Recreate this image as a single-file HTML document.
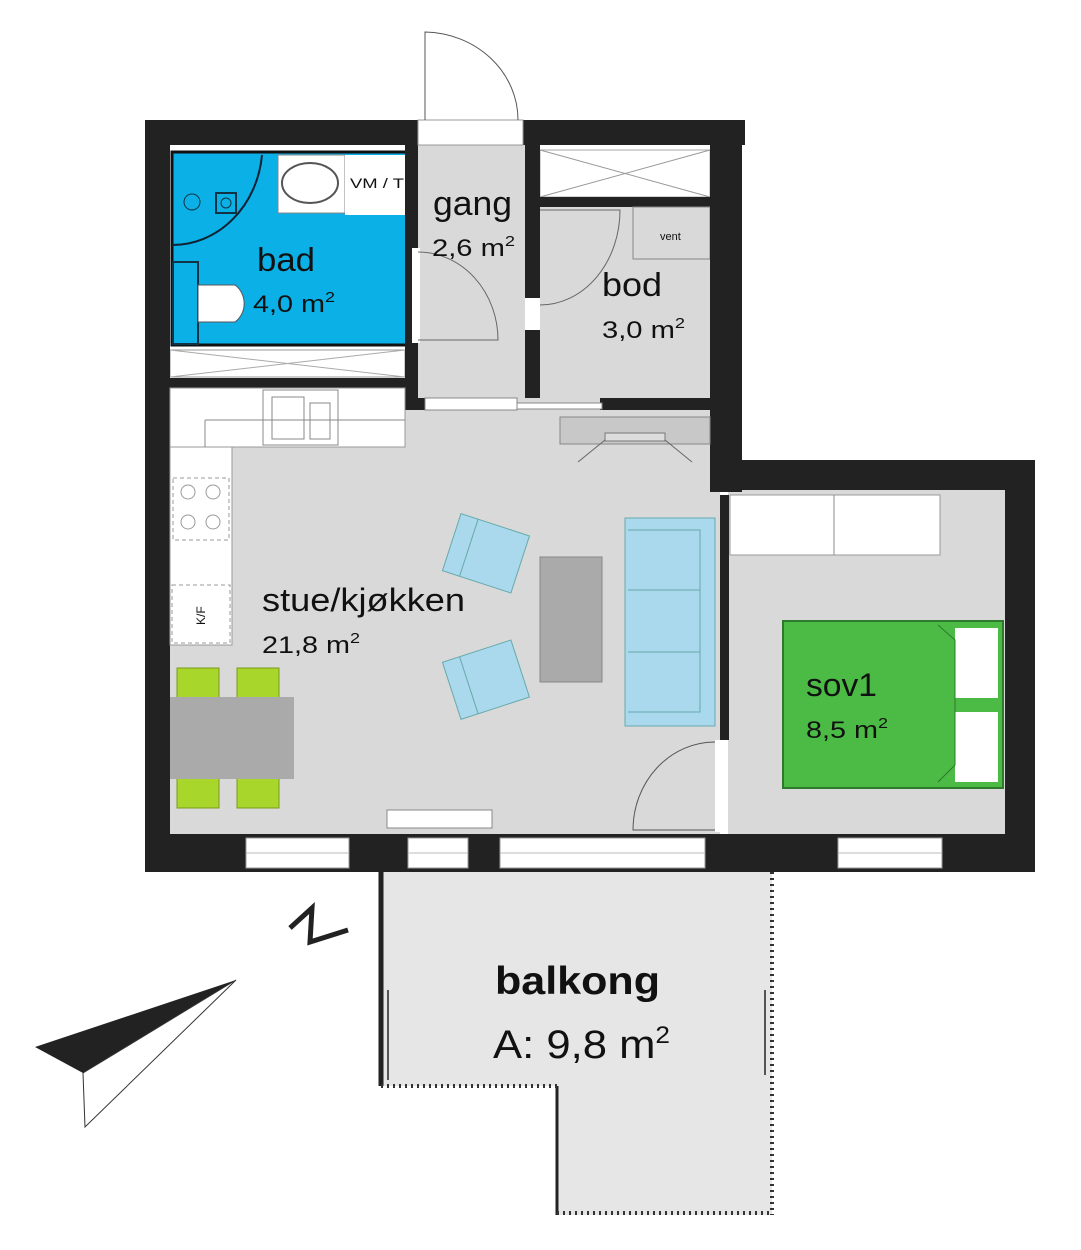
<!DOCTYPE html>
<html><head><meta charset="utf-8"><style>
html,body{margin:0;padding:0;background:#fff;}
svg{display:block;}
text{font-family:"Liberation Sans",sans-serif;fill:#111;}
</style></head><body>
<svg width="1081" height="1250" viewBox="0 0 1081 1250" xmlns="http://www.w3.org/2000/svg">
<rect width="1081" height="1250" fill="#fff"/>
<!-- floors -->
<rect x="170" y="388" width="550" height="446" fill="#d9d9d9"/>
<rect x="418" y="145" width="107" height="255" fill="#d9d9d9"/>
<rect x="540" y="207" width="170" height="190" fill="#d9d9d9"/>
<rect x="728" y="490" width="277" height="344" fill="#d9d9d9"/>
<!-- bathroom -->
<rect x="172" y="152" width="240" height="193" fill="#0ab0e6" stroke="#111" stroke-width="3"/>
<rect x="278" y="155" width="67" height="58" fill="#fff" stroke="#888"/>
<ellipse cx="310" cy="183" rx="28" ry="20" fill="#fff" stroke="#555" stroke-width="2"/>
<rect x="345" y="155" width="62" height="60" fill="#fff"/>
<text x="350" y="188" font-size="14" textLength="54" lengthAdjust="spacingAndGlyphs">VM / T</text>
<path d="M262 155 A 90 100 0 0 1 172 245" fill="none" stroke="#123" stroke-width="2"/>
<rect x="216" y="193" width="20" height="20" fill="none" stroke="#134" stroke-width="2"/>
<circle cx="226" cy="203" r="5" fill="none" stroke="#134"/>
<circle cx="192" cy="202" r="8" fill="none" stroke="#134"/>
<rect x="173" y="262" width="25" height="82" fill="none" stroke="#134" stroke-width="2"/>
<path d="M198 285 H235 A 20 22 0 0 1 235 322 H198 Z" fill="#fff" stroke="#555"/>
<text x="257" y="271" font-size="33" textLength="58" lengthAdjust="spacingAndGlyphs">bad</text>
<text x="253" y="312" font-size="24" textLength="82" lengthAdjust="spacingAndGlyphs">4,0 m<tspan font-size="15" dy="-10">2</tspan></text>
<!-- strip below bad -->
<rect x="170" y="350" width="235" height="27" fill="#fff" stroke="#999"/>
<path d="M170 350 L405 377 M170 377 L405 350" stroke="#aaa"/>
<rect x="170" y="378" width="240" height="10" fill="#222"/>
<!-- bod closet -->
<rect x="540" y="150" width="170" height="47" fill="#fff" stroke="#aaa"/>
<path d="M540 150 L710 197 M540 197 L710 150" stroke="#999"/>
<rect x="540" y="197" width="170" height="10" fill="#222"/>
<rect x="633" y="207" width="77" height="52" fill="#d9d9d9" stroke="#888"/>
<text x="660" y="240" font-size="11">vent</text>
<!-- walls -->
<g fill="#222">
<rect x="145" y="120" width="273" height="25"/>
<rect x="523" y="120" width="222" height="25"/>
<rect x="145" y="120" width="25" height="752"/>
<rect x="710" y="120" width="32" height="372"/>
<rect x="710" y="460" width="325" height="30"/>
<rect x="1005" y="460" width="30" height="412"/>
<rect x="525" y="145" width="15" height="153"/>
<rect x="525" y="330" width="15" height="68"/>
<rect x="405" y="145" width="13" height="255"/>
<rect x="405" y="398" width="20" height="12"/>
<rect x="600" y="398" width="120" height="12"/>
<rect x="720" y="495" width="9" height="245"/>
<rect x="145" y="834" width="890" height="38"/>
</g>
<!-- entry door -->
<rect x="418" y="120" width="105" height="25" fill="#fff" stroke="#999"/>
<path d="M425 120 V32 A 95 88 0 0 1 518 120" fill="none" stroke="#555"/>
<!-- gang door -->
<rect x="412" y="248" width="8" height="95" fill="#fff"/>
<path d="M418 252 A 80 88 0 0 1 498 340 H418" fill="none" stroke="#666"/>
<path d="M540 305 A 80 95 0 0 0 620 210 H540" fill="none" stroke="#666"/>
<rect x="528" y="298" width="10" height="32" fill="#fff"/>
<text x="433" y="215" font-size="34" textLength="79" lengthAdjust="spacingAndGlyphs">gang</text>
<text x="432" y="256" font-size="24" textLength="83" lengthAdjust="spacingAndGlyphs">2,6 m<tspan font-size="15" dy="-10">2</tspan></text>
<text x="602" y="296" font-size="33" textLength="60" lengthAdjust="spacingAndGlyphs">bod</text>
<text x="602" y="338" font-size="24" textLength="83" lengthAdjust="spacingAndGlyphs">3,0 m<tspan font-size="15" dy="-10">2</tspan></text>
<!-- sliding door top -->
<rect x="425" y="398" width="92" height="12" fill="#fff" stroke="#888"/>
<rect x="517" y="403" width="85" height="6" fill="#fff" stroke="#888"/>
<!-- kitchen -->
<rect x="170" y="388" width="235" height="59" fill="#fff" stroke="#999"/>
<rect x="170" y="447" width="62" height="198" fill="#fff" stroke="#999"/>
<rect x="263" y="390" width="75" height="55" fill="none" stroke="#888"/>
<rect x="272" y="397" width="32" height="42" fill="none" stroke="#888"/>
<rect x="310" y="403" width="20" height="36" fill="none" stroke="#888"/>
<path d="M205 420 H405 M205 420 V447" stroke="#888" fill="none"/>
<rect x="173" y="478" width="56" height="62" fill="none" stroke="#999" stroke-dasharray="4 3"/>
<circle cx="188" cy="492" r="7" fill="none" stroke="#999"/><circle cx="213" cy="492" r="7" fill="none" stroke="#999"/>
<circle cx="188" cy="522" r="7" fill="none" stroke="#999"/><circle cx="213" cy="522" r="7" fill="none" stroke="#999"/>
<rect x="172" y="585" width="58" height="58" fill="#fff" stroke="#999" stroke-dasharray="4 3"/>
<text x="0" y="0" font-size="12" transform="translate(205,625) rotate(-90)">K/F</text>
<!-- fireplace -->
<rect x="560" y="417" width="150" height="27" fill="#c8c8c8" stroke="#888"/>
<rect x="605" y="433" width="60" height="8" fill="#ddd" stroke="#777"/>
<path d="M605 440 L578 462 M665 440 L692 462" stroke="#666"/>
<!-- dining -->
<g fill="#a8d62a" stroke="#7a9a1a">
<rect x="177" y="668" width="42" height="30"/><rect x="237" y="668" width="42" height="30"/>
<rect x="177" y="778" width="42" height="30"/><rect x="237" y="778" width="42" height="30"/>
</g>
<rect x="170" y="697" width="124" height="82" fill="#aaa"/>
<!-- living furniture -->
<rect x="540" y="557" width="62" height="125" fill="#aaa" stroke="#888"/>
<rect x="625" y="518" width="90" height="208" fill="#aad8ec" stroke="#6aa"/>
<path d="M628 530 H700 V712 H628 M628 590 H700 M628 652 H700" fill="none" stroke="#6aa"/>
<g transform="rotate(18 485 553)"><rect x="450" y="523" width="72" height="60" fill="#aad8ec" stroke="#6aa"/><path d="M468 523 V583" stroke="#6aa"/></g>
<g transform="rotate(-18 485 680)"><rect x="450" y="650" width="72" height="60" fill="#aad8ec" stroke="#6aa"/><path d="M468 650 V710" stroke="#6aa"/></g>
<text x="262" y="611" font-size="32" textLength="203" lengthAdjust="spacingAndGlyphs">stue/kjøkken</text>
<text x="262" y="653" font-size="24" textLength="98" lengthAdjust="spacingAndGlyphs">21,8 m<tspan font-size="15" dy="-10">2</tspan></text>
<!-- door to sov -->
<rect x="715" y="740" width="12" height="92" fill="#fff"/>
<path d="M715 742 A 82 88 0 0 0 633 830 H715" fill="none" stroke="#555"/>
<rect x="387" y="810" width="105" height="18" fill="#fff" stroke="#888"/>
<!-- sov -->
<rect x="730" y="495" width="210" height="60" fill="#fff" stroke="#999"/>
<path d="M834 495 V555" stroke="#888"/>
<rect x="783" y="621" width="220" height="167" fill="#4cbb45" stroke="#2c7a2a" stroke-width="2"/>
<rect x="955" y="628" width="43" height="70" fill="#fff"/>
<rect x="955" y="712" width="43" height="70" fill="#fff"/>
<path d="M938 625 L955 640 V765 L938 782" fill="none" stroke="#2c7a2a"/>
<text x="806" y="696" font-size="32" textLength="71" lengthAdjust="spacingAndGlyphs">sov1</text>
<text x="806" y="738" font-size="24" textLength="82" lengthAdjust="spacingAndGlyphs">8,5 m<tspan font-size="15" dy="-10">2</tspan></text>
<!-- windows -->
<g fill="#fff" stroke="#999">
<rect x="246" y="838" width="103" height="30"/>
<rect x="408" y="838" width="60" height="30"/>
<rect x="500" y="838" width="205" height="30"/>
<rect x="838" y="838" width="104" height="30"/>
</g>
<path d="M246 853 H349 M408 853 H468 M500 853 H705 M838 853 H942" stroke="#bbb"/>
<!-- balcony -->
<path d="M381 872 H772 V1215 H557 V1086 H381 Z" fill="#e6e6e6"/>
<path d="M381 872 V1086" stroke="#222" stroke-width="5"/>
<path d="M557 1086 V1215" stroke="#222" stroke-width="3"/>
<path d="M381 1086 H557 M557 1213 H772" stroke="#333" stroke-width="4" stroke-dasharray="2 4"/>
<path d="M772 872 V1215" stroke="#333" stroke-width="4" stroke-dasharray="2 4"/>
<path d="M388 990 V1080 M765 990 V1075" stroke="#555" stroke-width="2"/>
<text x="495" y="994" font-size="39" font-weight="bold" textLength="165" lengthAdjust="spacingAndGlyphs">balkong</text>
<text x="493" y="1058" font-size="40" textLength="177" lengthAdjust="spacingAndGlyphs">A: 9,8 m<tspan font-size="24" dy="-15">2</tspan></text>
<!-- north arrow -->
<path d="M290 928 L312 908 L310 942 L348 930" fill="none" stroke="#222" stroke-width="5"/>
<path d="M236 980 L35 1047 L83 1073 Z" fill="#222"/>
<path d="M236 980 L83 1073 L85 1127 Z" fill="#fff" stroke="#333"/>
</svg>
</body></html>
